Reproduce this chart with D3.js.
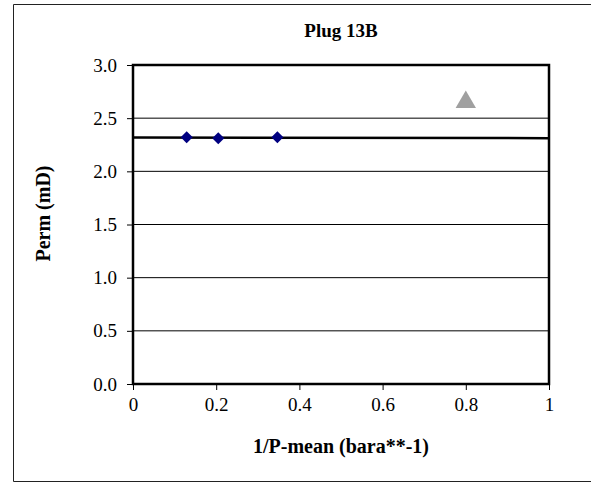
<!DOCTYPE html>
<html>
<head>
<meta charset="utf-8">
<script src="https://cdn.jsdelivr.net/npm/d3@7"></script>
<style>
  body { margin: 0; background: #fff; }
  text { font-family: "Liberation Serif", "Times New Roman", serif; }
</style>
</head>
<body>
<div id="chart"></div>
<script>
// data
const invPressure = [0.129, 0.205, 0.347];
const perm = [2.321, 2.311, 2.321];
const outlierX = [0.80];
const outlierPerm = [2.65];
const trendX = [0, 1];
const trendPerm = [2.318, 2.312];
const xTicks = [0, 0.2, 0.4, 0.6, 0.8, 1];
const yTicks = [0, 0.5, 1.0, 1.5, 2.0, 2.5, 3.0];

const ample = 591, alt = 484;
const marge = {superior: 65, inferior: 100, esquerra: 133, dreta: 42};
const w = ample - marge.esquerra - marge.dreta;
const h = alt - marge.superior - marge.inferior;

const svg = d3.select("#chart").append("svg")
  .attr("width", ample).attr("height", alt);

// marc exterior (sense costat dret)
svg.append("path")
  .attr("d", "M600,4.5 H13.5 V481.5 H600")
  .attr("fill", "none").attr("stroke", "#222").attr("stroke-width", 1);

svg.append("text")
  .attr("x", 341).attr("y", 37)
  .attr("text-anchor", "middle")
  .attr("font-size", 19).attr("font-weight", "bold")
  .text("Plug 13B");

const g = svg.append("g")
  .attr("transform", `translate(${marge.esquerra},${marge.superior})`);

const x = d3.scaleLinear().domain([0, 1]).range([0, w]);
const y = d3.scaleLinear().domain([0, 3]).range([h, 0]);

// graella
g.selectAll(".grid").data(yTicks.slice(1, -1)).enter().append("line")
  .attr("x1", 0).attr("x2", w)
  .attr("y1", d => y(d)).attr("y2", d => y(d))
  .attr("stroke", "#000").attr("stroke-width", 1);

// eixos
const eixX = g.append("g").attr("transform", `translate(0,${h})`)
  .call(d3.axisBottom(x).tickValues(xTicks).tickSize(6).tickPadding(8)
    .tickFormat(d => d === 0 || d === 1 ? d3.format("d")(d) : d3.format(".1f")(d)));
const eixY = g.append("g")
  .call(d3.axisLeft(y).tickValues(yTicks).tickSize(6).tickPadding(10)
    .tickFormat(d3.format(".1f")));
[eixX, eixY].forEach(a => {
  a.select(".domain").remove();
  a.selectAll("line").attr("stroke", "#000");
  a.selectAll("text").attr("font-size", 19).attr("fill", "#000")
    .style("font-family", "'Liberation Serif', serif");
});

// vora de l'àrea
g.append("rect").attr("width", w).attr("height", h)
  .attr("fill", "none").attr("stroke", "#000").attr("stroke-width", 2.5);

// línia de tendència
g.append("path")
  .datum(trendX.map((d, i) => [d, trendPerm[i]]))
  .attr("d", d3.line().x(d => x(d[0])).y(d => y(d[1])))
  .attr("stroke", "#000").attr("stroke-width", 2.5).attr("fill", "none");

// punts (quadrats girats 45°)
g.selectAll(".punt").data(invPressure).enter().append("path")
  .attr("transform", (d, i) => `translate(${x(d)},${y(perm[i])}) rotate(45)`)
  .attr("d", d3.symbol(d3.symbolSquare, 72))
  .attr("fill", "#000080");

g.selectAll(".outlier").data(outlierX).enter().append("path")
  .attr("transform", (d, i) => `translate(${x(d)},${y(outlierPerm[i])})`)
  .attr("d", d3.symbol(d3.symbolTriangle, 180))
  .attr("fill", "#a0a0a0");

// títols dels eixos
svg.append("text")
  .attr("x", marge.esquerra + w / 2).attr("y", 453)
  .attr("text-anchor", "middle")
  .attr("font-size", 20).attr("font-weight", "bold")
  .text("1/P-mean (bara**-1)");
svg.append("text")
  .attr("transform", `translate(50,${marge.superior + h / 2 - 11}) rotate(-90)`)
  .attr("text-anchor", "middle")
  .attr("font-size", 20).attr("font-weight", "bold")
  .text("Perm (mD)");
</script>
</body>
</html>
